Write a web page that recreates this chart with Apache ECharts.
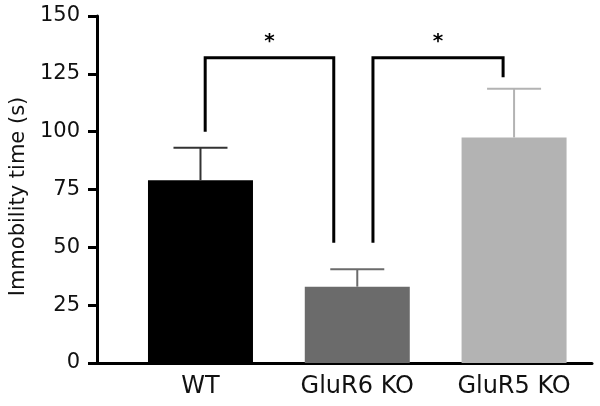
<!DOCTYPE html>
<html>
<head>
<meta charset="utf-8">
<script src="https://cdn.jsdelivr.net/npm/echarts@6/dist/echarts.min.js"></script>
<style>
  html, body { margin: 0; padding: 0; background: #fff; }
  #chart { width: 600px; height: 406px; }
</style>
</head>
<body>
<div id="chart"></div>
<script>
// groups and their values (s)
const categories = ['WT', 'GluR6 KO', 'GluR5 KO'];
const means = [79, 33, 97.5];
const errUpper = [93, 40.5, 118.5];
const barColors = ['#000000', '#6b6b6b', '#b3b3b3'];
const errColors = ['#333333', '#6b6b6b', '#b3b3b3'];
const yTicks = [0, 25, 50, 75, 100, 125, 150];

// significance brackets: [xLeft, yLeftEnd, xRight, yRightEnd, yTop]
const brackets = [
  [0.03, 100, 0.85, 52, 132],
  [1.10, 52, 1.93, 123.5, 132]
];
const bracketText = ['*', '*'];

const chart = echarts.init(document.getElementById('chart'));

const font = 'DejaVu Sans';

const option = {
  animation: false,
  grid: { left: 97, right: 8, top: 16, bottom: 43 },
  xAxis: {
    type: 'value',
    min: -0.66,
    max: 2.497,
    splitLine: { show: false },
    axisLine: { show: true, onZero: false, lineStyle: { color: '#000', width: 3 } },
    axisTick: { show: false },
    axisLabel: {
      customValues: [0, 1, 2],
      formatter: v => categories[Math.round(v)],
      color: '#111',
      fontFamily: font,
      fontSize: 24,
      margin: 12
    }
  },
  yAxis: {
    type: 'value',
    min: yTicks[0],
    max: yTicks[yTicks.length - 1],
    interval: 25,
    name: 'Immobility time (s)',
    nameLocation: 'middle',
    nameGap: 68,
    nameTextStyle: { color: '#111', fontFamily: font, fontSize: 21, padding: [0, 14, 0, 0] },
    splitLine: { show: false },
    axisLine: { show: true, onZero: false, lineStyle: { color: '#000', width: 3 } },
    axisTick: { show: true, length: 9, lineStyle: { color: '#000', width: 3 } },
    axisLabel: { color: '#111', fontFamily: font, fontSize: 21, margin: 17 }
  },
  series: [
    {
      type: 'bar',
      barWidth: 105,
      data: means.map((m, i) => ({ value: [i, m], itemStyle: { color: barColors[i] } }))
    },
    {
      type: 'custom',
      z: 5,
      data: means.map((m, i) => [i, m, errUpper[i]]),
      renderItem: (params, api) => {
        const i = params.dataIndex;
        const base = api.coord([api.value(0), api.value(1)]);
        const top = api.coord([api.value(0), api.value(2)]);
        const half = 27;
        const style = { stroke: errColors[i], lineWidth: 2, fill: null };
        return {
          type: 'group',
          children: [
            { type: 'line', shape: { x1: base[0], y1: base[1], x2: top[0], y2: top[1] }, style },
            { type: 'line', shape: { x1: top[0] - half, y1: top[1], x2: top[0] + half, y2: top[1] }, style }
          ]
        };
      }
    },
    {
      type: 'custom',
      z: 6,
      data: brackets,
      renderItem: (params, api) => {
        const a = api.coord([api.value(0), api.value(1)]);
        const b = api.coord([api.value(0), api.value(4)]);
        const c = api.coord([api.value(2), api.value(4)]);
        const d = api.coord([api.value(2), api.value(3)]);
        return {
          type: 'group',
          children: [
            {
              type: 'polyline',
              shape: { points: [a, b, c, d] },
              style: { stroke: '#000', lineWidth: 3, fill: null }
            },
            {
              type: 'text',
              x: (b[0] + c[0]) / 2,
              y: b[1] - 6,
              style: {
                text: bracketText[params.dataIndex],
                fill: '#000',
                font: 'bold 20px ' + font,
                align: 'center',
                verticalAlign: 'bottom'
              }
            }
          ]
        };
      }
    }
  ]
};

chart.setOption(option);
</script>
</body>
</html>
